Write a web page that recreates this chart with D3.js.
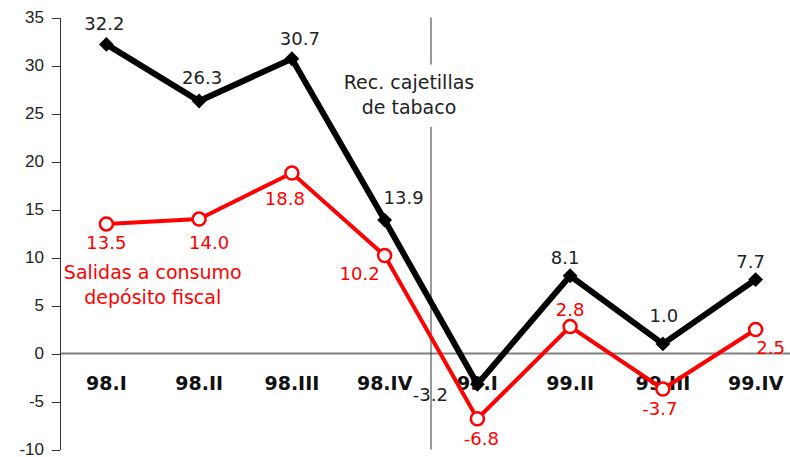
<style>
body { margin: 0; background: #fff; }
svg { font-family: "DejaVu Sans", Verdana, sans-serif; }
.axis path, .axis line { stroke: #333; shape-rendering: crispEdges; }
.axis text { font-size: 17px; fill: #222; }
.cat { font-size: 19px; font-weight: bold; fill: #111; }
.lbl { font-size: 18px; }
.note { font-size: 19px; }
</style>
<svg width="790" height="457"></svg>
<script src="https://d3js.org/d3.v7.min.js"></script>
<script>

var quarters = ['98.I', '98.II', '98.III', '98.IV', '99.I', '99.II', '99.III', '99.IV'];
var tabaco = [32.2, 26.3, 30.7, 13.9, -3.2, 8.1, 1.0, 7.7];
var salidas = [13.5, 14.0, 18.8, 10.2, -6.8, 2.8, -3.7, 2.5];
var yTicks = [-10, -5, 0, 5, 10, 15, 20, 25, 30, 35];

var svg = d3.select('svg');

var x = d3.scaleBand()
    .domain(quarters)
    .range([60, 802]);

var y = d3.scaleLinear()
    .domain([-10, 35])
    .range([449.5, 17.5]);

var cx = function (d, i) { return x(quarters[i]) + x.bandwidth() / 2; };

// zero line
svg.append('line')
  .attr('x1', 60).attr('x2', 790)
  .attr('y1', y(0)).attr('y2', y(0))
  .style('stroke', '#808080')
  .style('stroke-width', 2);

// y axis
svg.append('g')
  .attr('class', 'axis')
  .attr('transform', 'translate(60,0)')
  .call(d3.axisLeft(y).tickValues(yTicks).tickFormat(function (d) { return String(d); })
    .tickSize(8).tickPadding(8).tickSizeOuter(0));

// category labels
svg.selectAll('.cat')
  .data(quarters)
  .enter().append('text')
  .attr('class', 'cat')
  .attr('x', function (d) { return x(d) + x.bandwidth() / 2; })
  .attr('y', y(-3.8))
  .attr('text-anchor', 'middle')
  .text(function (d) { return d; });

// divider between 98 and 99
var divX = x('99.I');
svg.append('line')
  .attr('x1', divX).attr('x2', divX)
  .attr('y1', y(35)).attr('y2', y(30.1))
  .style('stroke', '#333');
svg.append('line')
  .attr('x1', divX).attr('x2', divX)
  .attr('y1', y(23.6)).attr('y2', y(-10))
  .style('stroke', '#333');

svg.append('text')
  .attr('class', 'note')
  .attr('x', divX - 22).attr('y', 89)
  .attr('text-anchor', 'middle')
  .style('fill', '#222')
  .text('Rec. cajetillas');
svg.append('text')
  .attr('class', 'note')
  .attr('x', divX - 22).attr('y', 114)
  .attr('text-anchor', 'middle')
  .style('fill', '#222')
  .text('de tabaco');

svg.append('text')
  .attr('class', 'note')
  .attr('x', x('98.I') + x.bandwidth()).attr('y', 279)
  .attr('text-anchor', 'middle')
  .style('fill', '#ff0000')
  .text('Salidas a consumo');
svg.append('text')
  .attr('class', 'note')
  .attr('x', x('98.I') + x.bandwidth()).attr('y', 304)
  .attr('text-anchor', 'middle')
  .style('fill', '#ff0000')
  .text('depósito fiscal');

var line = d3.line()
  .x(cx)
  .y(function (d) { return y(d); });

// red series
svg.append('path')
  .datum(salidas)
  .attr('d', line)
  .style('fill', 'none')
  .style('stroke', '#ff0000')
  .style('stroke-width', 4)
  .style('stroke-linejoin', 'miter');

svg.selectAll('.redpt')
  .data(salidas)
  .enter().append('circle')
  .attr('class', 'redpt')
  .attr('cx', cx)
  .attr('cy', function (d) { return y(d); })
  .attr('r', 6.5)
  .style('fill', '#fff')
  .style('stroke', '#ff0000')
  .style('stroke-width', 2.5);

// black series
svg.append('path')
  .datum(tabaco)
  .attr('d', line)
  .style('fill', 'none')
  .style('stroke', '#000')
  .style('stroke-width', 6)
  .style('stroke-linejoin', 'miter');

svg.selectAll('.blkpt')
  .data(tabaco)
  .enter().append('path')
  .attr('class', 'blkpt')
  .attr('d', d3.symbol().type(d3.symbolSquare).size(110))
  .attr('transform', function (d, i) { return 'translate(' + cx(d, i) + ',' + y(d) + ') rotate(45)'; })
  .style('fill', '#000');

// value labels: offsets relative to each point
var blackOff = [[-2, -14], [3, -17], [8, -14], [19, -16], [-47, 17], [-5, -12], [1, -22], [-5, -12]];
var redOff = [[0, 25], [10, 30], [-7, 32], [-25, 24], [4, 26], [0, -11], [-3, 26], [15, 24]];

svg.selectAll('.blbl')
  .data(tabaco)
  .enter().append('text')
  .attr('class', 'lbl')
  .attr('x', function (d, i) { return cx(d, i) + blackOff[i][0]; })
  .attr('y', function (d, i) { return y(d) + blackOff[i][1]; })
  .attr('text-anchor', 'middle')
  .style('fill', '#222')
  .text(function (d) { return d.toFixed(1); });

svg.selectAll('.rlbl')
  .data(salidas)
  .enter().append('text')
  .attr('class', 'lbl')
  .attr('x', function (d, i) { return cx(d, i) + redOff[i][0]; })
  .attr('y', function (d, i) { return y(d) + redOff[i][1]; })
  .attr('text-anchor', 'middle')
  .style('fill', '#ff0000')
  .text(function (d) { return d.toFixed(1); });

</script>
